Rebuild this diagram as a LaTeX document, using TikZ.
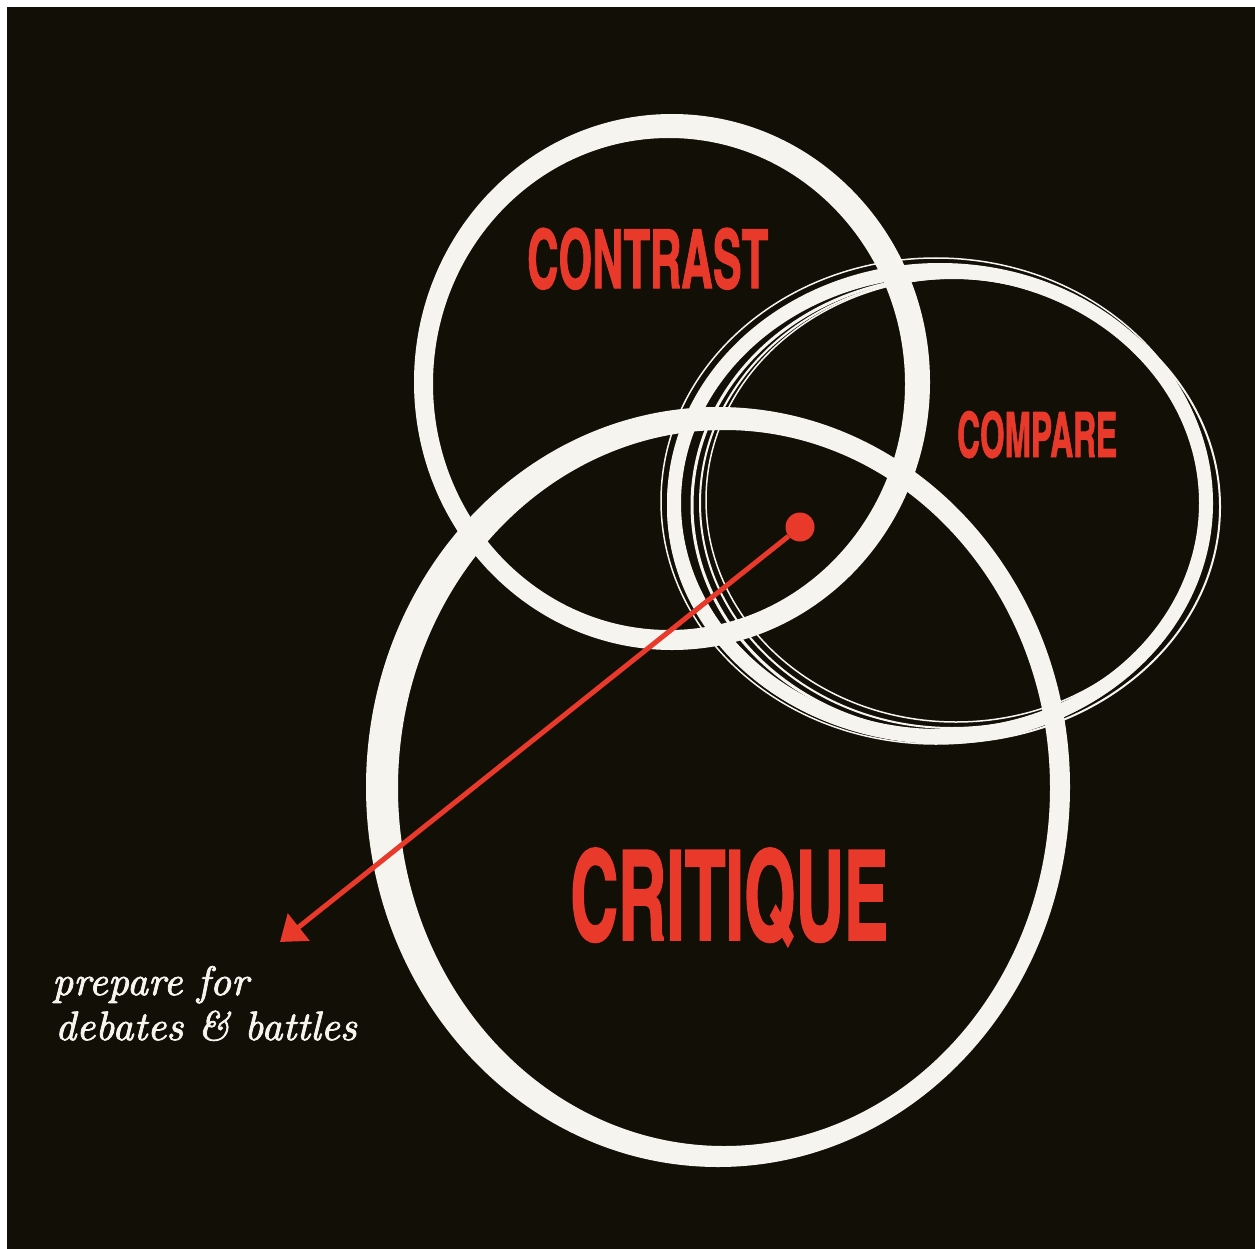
\documentclass[tikz,border=0pt]{standalone}
\usepackage{fontspec}
\usepackage{graphicx}
\usetikzlibrary{arrows.meta}
\newfontfamily\gothic[FakeBold=1.5]{texgyreheroscn-bold.otf}
\newfontfamily\scribe[FakeBold=2,LetterSpace=0.5]{lmroman10-italic.otf}
\definecolor{ink}{HTML}{120F07}
\definecolor{red}{HTML}{E8392B}
\definecolor{chalk}{HTML}{F6F4EE}

\begin{document}
\begin{tikzpicture}[x=1pt,y=-1pt,>={Triangle[length=24pt,width=34pt]},
  band/.style={fill=chalk,even odd rule},
  strand/.style={draw=chalk},
  word/.style={text=red,inner sep=0pt,anchor=base west,font=\gothic},
  note/.style={text=chalk,inner sep=0pt,anchor=base west,
    font=\fontsize{41}{48}\scribe}]
  \useasboundingbox (0,0) rectangle (1255,1249);
  \fill[white] (0,0) rectangle (1255,1249);
  \fill[ink] (7,7) rectangle (1255,1249);
  % contrast ring
  \path[band] (672,382) ellipse [x radius=258,y radius=268]
              (669,384) ellipse [x radius=236,y radius=246];
  % compare ring, dry brush strands
  \path[band] (940,503) ellipse [x radius=273,y radius=240]
              (940,503) ellipse [x radius=259,y radius=226];
  \foreach \cx/\cy/\rx/\ry/\w in {948/505/256/228/3,952/503/252/225/2,
      944/507/276/236/2,956/500/250/222/1.5,936/501/275/243/1.5}{
    \draw[strand,line width=\w pt] (\cx,\cy) ellipse [x radius=\rx,y radius=\ry];
  }
  % critique ring
  \path[band] (718,787) ellipse [x radius=352,y radius=380]
              (724,788) ellipse [x radius=326,y radius=358];
  % labels
  \node[word] (contrast) at (527,288) {\resizebox{241pt}{60pt}{CONTRAST}};
  \node[word] (compare) at (957,457) {\resizebox{160pt}{46pt}{COMPARE}};
  \node[word] (critique) at (570,940) {\resizebox{318pt}{92pt}{CRITIQUE}};
  \node[note] (prep) at (52,995) {prepare for};
  \node[note] (fight) at (55,1040) {debates \& battles};
  % pointer
  \node[circle,fill=red,minimum size=29pt,inner sep=0pt] (hub) at (800,527) {};
  \coordinate (tip) at (280,942);
  \draw[->,red,line width=5pt] (hub) -- (tip);
\end{tikzpicture}
\end{document}
